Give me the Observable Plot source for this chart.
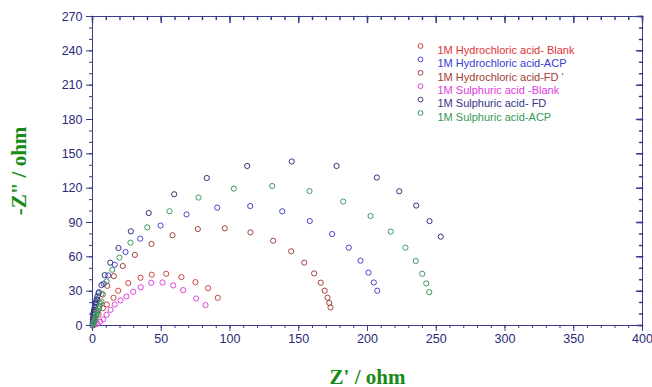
<!DOCTYPE html>
<html><head><meta charset="utf-8">
<script src="https://cdn.jsdelivr.net/npm/d3@7"></script>
<script src="https://cdn.jsdelivr.net/npm/@observablehq/plot@0.6"></script>
<style>
body{margin:0;background:#fff}
#chart svg{font-family:"Liberation Sans",Arial,sans-serif;background:#fff}
</style></head><body><div id="chart"></div>
<script>
const seriesNames = ["1M Hydrochloric acid- Blank","1M Hydrochloric acid-ACP","1M Hydrochloric acid-FD '","1M Sulphuric acid -Blank","1M Sulphuric acid- FD","1M Sulphuric acid-ACP"];
const markerColors = ["#d04444","#4646cc","#a4443a","#dd44dd","#33337f","#3f9a62"];
const textColors = ["#dd3333","#3a3ad4","#a33a33","#dd3bdd","#333388","#339955"];
const xTicks = [0,50,100,150,200,250,300,350,400];
const yTicks = [0,30,60,90,120,150,180,210,240,270];
const xLabel = "Z' / ohm";
const yLabel = "-Z\" / ohm";

const hclBlankX = [0.7,2.2,4.4,7.5,10.4,15.3,18.7,26.0,34.9,43.1,53.6,64.7,74.9,84.1,91.1];
const hclBlankY = [1.3,4.4,9.6,15.1,18.4,24.2,30.4,37.1,41.7,44.4,45.2,42.3,37.9,32.6,24.2];
const hclAcpX = [0.1,0.4,0.7,1.2,1.8,2.6,3.4,4.6,8.2,11.4,16.2,24.0,34.7,49.5,68.4,90.7,114.7,138.0,158.0,174.3,186.4,194.9,200.7,204.6,207.1];
const hclAcpY = [1.7,5.3,10.5,13.5,16.6,19.5,22.5,29.1,36.5,43.8,53.1,64.2,75.9,87.3,97.1,103.0,104.4,99.8,91.3,79.9,68.0,56.6,46.2,37.6,30.4];
const hclFdX = [0.5,1.2,2.9,5.1,7.5,10.7,15.5,22.0,30.8,42.9,58.2,76.6,96.2,114.9,131.4,144.5,154.0,161.2,166.0,168.9,170.9,172.2,173.1];
const hclFdY = [2.0,6.5,13.1,20.1,27.1,34.7,43.1,52.0,61.7,71.3,78.9,84.3,84.9,81.4,74.1,64.8,54.9,45.5,37.4,30.4,24.3,19.7,15.8];
const h2so4BlankX = [1.5,3.6,5.6,7.8,10.2,13.1,16.2,20.4,24.7,29.6,35.1,42.7,50.9,58.7,65.9,75.4,82.2];
const h2so4BlankY = [0.6,1.6,3.3,5.3,9.4,13.7,18.4,21.9,25.4,29.5,33.5,37.3,37.6,35.0,30.9,23.6,17.8];
const h2so4FdX = [0.0,0.2,0.3,0.5,0.7,0.9,1.3,1.7,2.1,2.5,3.0,3.6,4.4,6.5,8.9,12.9,18.9,27.9,40.9,59.4,83.1,112.5,144.9,177.5,206.8,223.1,235.4,245.1,253.3];
const h2so4FdY = [0.0,3.5,5.4,7.3,9.5,11.6,13.8,16.0,18.2,20.4,22.9,25.4,28.3,35.3,44.0,54.9,67.7,82.3,98.3,114.7,128.9,139.4,143.3,139.4,129.3,117.3,104.8,91.2,77.6];
const h2so4AcpX = [0.3,0.7,1.0,1.5,1.9,2.2,2.6,2.9,3.4,4.0,4.6,5.1,5.8,6.5,6.5,10.2,14.3,19.6,27.6,39.8,56.0,77.1,102.8,130.7,157.8,182.3,202.2,216.9,227.6,235.1,239.8,242.7,244.9];
const h2so4AcpY = [0.5,1.8,3.0,4.4,5.7,7.0,8.3,9.6,11.3,13.1,15.0,16.6,18.8,21.0,27.7,38.5,48.7,59.3,72.4,85.8,99.8,111.8,119.6,121.9,117.5,108.3,95.7,82.0,68.0,56.3,45.2,36.8,29.1];

const seriesX = [hclBlankX,hclAcpX,hclFdX,h2so4BlankX,h2so4FdX,h2so4AcpX];
const seriesY = [hclBlankY,hclAcpY,hclFdY,h2so4BlankY,h2so4FdY,h2so4AcpY];
const rows = seriesNames.flatMap((name,i)=>seriesX[i].map((x,j)=>({series:name,x,y:seriesY[i][j]})));

const axisColor = "#3b3b8c";
const labelColor = "#2a2a78";
const green = "#178a17";
const xMinor = d3.range(0,401,10);
const yMinor = d3.range(0,271,10);
const tickShape = {draw(context, l) { context.moveTo(0, 0); context.lineTo(0, -l); }};

const legendMarks = seriesNames.flatMap((name,i)=>[
  Plot.dot([name], {frameAnchor:"top-left", dx:328, dy:29.5+i*13.4, r:2.4, stroke:markerColors[i], strokeWidth:1}),
  Plot.text([name], {frameAnchor:"top-left", dx:345, dy:29.5+i*13.4, text:d=>d, fill:textColors[i], fontSize:11, textAnchor:"start"})
]);

const chart = Plot.plot({
  width: 652, height: 387,
  marginLeft: 92, marginRight: 10, marginTop: 16, marginBottom: 62,
  x: {domain:[0,400]},
  y: {domain:[0,270]},
  color: {domain: seriesNames, range: markerColors},
  marks: [
    Plot.frame({stroke: axisColor}),
    Plot.axisX(xMinor, {tickSize:3, text:null, stroke:axisColor, label:null}),
    Plot.axisX(xTicks, {tickSize:6, tickPadding:3, fill:labelColor, stroke:axisColor, fontSize:12.5, label:null}),
    Plot.axisY(yMinor, {tickSize:3, text:null, stroke:axisColor, label:null}),
    Plot.axisY(yTicks, {tickSize:6, tickPadding:4, fill:labelColor, stroke:axisColor, fontSize:12.5, label:null}),
    Plot.vector(xMinor, {x:d=>d, y:270, length:3, rotate:180, anchor:"start", shape:tickShape, stroke:axisColor}),
    Plot.vector(xTicks, {x:d=>d, y:270, length:6, rotate:180, anchor:"start", shape:tickShape, stroke:axisColor}),
    Plot.vector(yMinor, {x:400, y:d=>d, length:3, rotate:-90, anchor:"start", shape:tickShape, stroke:axisColor}),
    Plot.vector(yTicks, {x:400, y:d=>d, length:6, rotate:-90, anchor:"start", shape:tickShape, stroke:axisColor}),
    Plot.dot(rows, {x:"x", y:"y", stroke:"series", r:2.6, strokeWidth:1}),
    ...legendMarks,
    Plot.text([xLabel], {frameAnchor:"bottom", dy:58, text:d=>d, fill:green, fontSize:21, fontWeight:"bold", fontFamily:"Liberation Serif"}),
    Plot.text([yLabel], {frameAnchor:"left", dx:-73, rotate:-90, textAnchor:"middle", text:d=>d, fill:green, fontSize:21, fontWeight:"bold", fontFamily:"Liberation Serif"})
  ]
});
document.getElementById("chart").appendChild(chart);
</script></body></html>
